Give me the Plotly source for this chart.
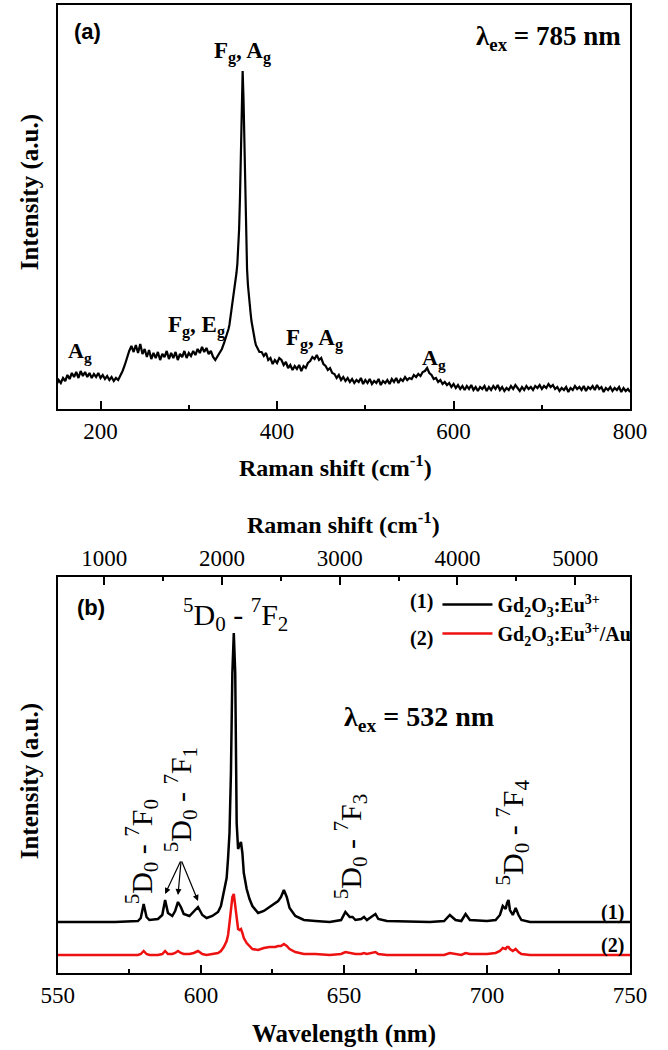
import plotly.graph_objects as go

W, H = 668, 1050


def px(x):
    return x / W


def py(y):
    return 1 - y / H


# ---------------- Panel (a): Raman spectrum, lambda_ex = 785 nm ----------------
raman_shift_a = ([150 + 2.5 * i for i in range(78)]
                 + list(range(345, 381))
                 + [382.5 + 2.5 * i for i in range(168)])
intensity_a = [
    # 150 .. 342.5 (step 2.5)
    24, 29, 26, 31, 28, 34, 30, 36, 32, 37,
    31, 38, 33, 37, 32, 36, 31, 35, 32, 36,
    31, 34, 30, 33, 29, 32, 28, 31, 29, 33,
    38, 44, 52, 58, 63, 57, 64, 56, 65, 55,
    60, 52, 59, 50, 56, 51, 57, 49, 55, 52,
    58, 50, 56, 51, 57, 49, 55, 52, 58, 51,
    56, 53, 58, 54, 60, 56, 62, 57, 61, 55,
    58, 52, 49, 53, 57, 60, 66, 72,
    # 345 .. 380 (step 1)
    80, 84, 90, 95, 102, 108, 114, 120, 128, 136,
    145, 160, 180, 212, 262, 318, 338, 310, 258, 205,
    165, 140, 124, 112, 104, 96, 88, 82, 76, 72,
    68, 64, 62, 60, 58, 57,
    # 382.5 .. 800 (step 2.5)
    57, 53, 56, 49, 51, 45, 49, 46, 51, 49,
    44, 47, 41, 44, 39, 43, 40, 44, 38, 43,
    41, 46, 48, 52, 50, 54, 49, 51, 45, 43,
    39, 41, 36, 35, 31, 34, 29, 32, 28, 31,
    27, 30, 26, 29, 27, 31, 25, 29, 26, 30,
    25, 28, 26, 30, 24, 28, 26, 29, 25, 30,
    27, 31, 26, 30, 28, 32, 29, 31, 30, 34,
    32, 35, 33, 37, 38, 41, 36, 34, 30, 31,
    27, 29, 25, 27, 24, 26, 22, 25, 21, 24,
    20, 23, 19, 23, 20, 24, 19, 22, 18, 22,
    20, 23, 18, 22, 19, 23, 20, 24, 19, 22,
    18, 21, 19, 23, 20, 24, 21, 18, 22, 19,
    23, 20, 22, 19, 23, 21, 24, 20, 23, 21,
    25, 22, 24, 20, 22, 18, 21, 19, 22, 17,
    21, 19, 23, 20, 22, 19, 23, 18, 22, 20,
    23, 19, 24, 20, 22, 17, 21, 19, 22, 18,
    21, 19, 22, 17, 21, 18, 20, 17,
]

# ---------------- Panel (b): luminescence, lambda_ex = 532 nm ----------------
wavelength_b = [
    550, 570, 578, 579, 580, 581, 582, 585, 586.5, 587.5,
    588.5, 590, 591, 592, 593, 594, 596, 597.5, 599, 600.5,
    602, 604, 606, 607, 608, 609, 609.5, 610, 610.5, 611,
    611.5, 612, 612.5, 613, 613.5, 614, 614.5, 615, 616, 617,
    618, 620, 622, 624, 626, 627, 628, 629, 630, 631,
    633, 636, 640, 645, 649, 650.5, 652, 653, 654, 656,
    657, 658, 660, 661, 662, 665, 680, 685, 687, 689,
    691, 692.5, 694, 700, 703, 704.5, 705.5, 706.5, 707, 707.5,
    708, 709, 710, 711, 712, 715, 730, 750,
]
intensity_gd2o3_eu = [
    51, 51, 52, 55, 69, 56, 53, 54, 58, 73,
    60, 57, 62, 71, 66, 59, 57, 62, 66, 58,
    55, 57, 61, 67, 80, 95, 115, 140, 200, 300,
    340, 300, 150, 124, 128, 131, 120, 100, 84, 74,
    67, 60, 62, 66, 70, 72, 76, 83, 76, 65,
    57, 53, 52, 51, 53, 61, 56, 56, 53, 54,
    56, 53, 57, 59, 54, 52, 51, 52, 58, 53,
    52, 59, 53, 52, 53, 58, 67, 64, 70, 73,
    63, 58, 65, 58, 53, 51, 51, 51,
]
intensity_gd2o3_eu_au = [
    18, 18, 18, 19, 22, 19, 18, 18, 19, 22,
    19, 19, 20, 22, 20, 19, 19, 20, 22, 19,
    18, 19, 20, 22, 26, 32, 38, 50, 64, 76,
    79, 68, 52, 44, 43, 44, 40, 35, 30, 27,
    24, 23, 25, 26, 26, 27, 27, 29, 27, 24,
    21, 19, 19, 18, 19, 21, 20, 20, 19, 19,
    20, 19, 20, 21, 19, 18, 18, 18, 20, 19,
    18, 20, 19, 19, 20, 22, 25, 24, 26, 26,
    24, 22, 24, 21, 19, 18, 18, 18,
]

series_names = [
    "<b>Gd<sub>2</sub>O<sub>3</sub>:Eu<sup>3+</sup></b>",
    "<b>Gd<sub>2</sub>O<sub>3</sub>:Eu<sup>3+</sup>/Au</b>",
]
series_colors = ["#000000", "#ee1111"]

SERIF = "Liberation Serif"
SANS = "Liberation Sans"

fig = go.Figure()

fig.add_trace(go.Scatter(
    x=raman_shift_a, y=intensity_a, mode="lines",
    line=dict(color="black", width=2.2), xaxis="x", yaxis="y", showlegend=False,
))
fig.add_trace(go.Scatter(
    x=wavelength_b, y=intensity_gd2o3_eu, mode="lines", name=series_names[0],
    line=dict(color=series_colors[0], width=2.5), xaxis="x2", yaxis="y2",
))
fig.add_trace(go.Scatter(
    x=wavelength_b, y=intensity_gd2o3_eu_au, mode="lines", name=series_names[1],
    line=dict(color=series_colors[1], width=2.5), xaxis="x2", yaxis="y2",
))

tickfont = dict(family=SERIF, size=23, color="black")
common_axis = dict(showline=True, linecolor="black", linewidth=2, showgrid=False,
                   zeroline=False, tickfont=tickfont)

fig.update_layout(
    width=W, height=H,
    margin=dict(l=0, r=0, t=0, b=0),
    paper_bgcolor="white", plot_bgcolor="white",
    font=dict(family=SERIF, color="black"),
    xaxis=dict(domain=[px(43), px(646)], anchor="y", range=[151.6, 800],
               ticks="inside", ticklen=8, tickwidth=2, tickcolor="black",
               tick0=0, dtick=200, mirror=True,
               minor=dict(ticks="inside", ticklen=4, tickwidth=2, dtick=100, tickcolor="black"),
               **common_axis),
    yaxis=dict(domain=[py(409), py(5)], anchor="x", range=[0, 404],
               showticklabels=False, ticks="", mirror=True, **common_axis),
    xaxis2=dict(domain=[px(43), px(646)], anchor="y2", range=[550, 750],
                ticks="inside", ticklen=8, tickwidth=2, tickcolor="black",
                tick0=550, dtick=50,
                minor=dict(ticks="inside", ticklen=4, tickwidth=2, dtick=25, tickcolor="black"),
                **common_axis),
    xaxis3=dict(overlaying="x2", side="top", anchor="y2", range=[606, 5466],
                ticks="inside", ticklen=8, tickwidth=2, tickcolor="black",
                tick0=0, dtick=1000,
                minor=dict(ticks="inside", ticklen=4, tickwidth=2, dtick=500, tickcolor="black"),
                **common_axis),
    yaxis2=dict(domain=[py(973), py(577)], anchor="x2", range=[0, 396],
                showticklabels=False, ticks="", mirror=True, **common_axis),
    showlegend=True,
    legend=dict(x=px(443), y=py(585), xanchor="left", yanchor="top",
                font=dict(family=SERIF, size=20, color="black"),
                bgcolor="rgba(0,0,0,0)", itemwidth=50, tracegroupgap=0),
)

# invisible anchor trace so the top axis is active
fig.add_trace(go.Scatter(x=[606, 5466], y=[None, None], xaxis="x3", yaxis="y2",
                         showlegend=False, hoverinfo="skip", mode="lines"))

ann = []


def add_text(text, x, y, size, family=SERIF, angle=0, xanchor="center", yanchor="middle"):
    ann.append(dict(text=text, x=px(x), y=py(y), xref="paper", yref="paper",
                    showarrow=False, textangle=angle, xanchor=xanchor, yanchor=yanchor,
                    font=dict(family=family, size=size, color="black")))


# axis titles
add_text("<b>Raman shift (cm<sup>-1</sup>)</b>", 336, 466, 24)
add_text("<b>Raman shift (cm<sup>-1</sup>)</b>", 344, 523, 24)
add_text("<b>Wavelength (nm)</b>", 345, 1034, 25)
add_text("<b>Intensity (a.u.)</b>", 14, 192, 25, angle=-90)
add_text("<b>Intensity (a.u.)</b>", 14, 781, 25, angle=-90)

# panel (a) labels
add_text("<b>(a)</b>", 74, 32, 22, family=SANS)
add_text("<b>λ<sub>ex</sub> = 785 nm</b>", 560, 38, 27)
add_text("<b>F<sub>g</sub>, A<sub>g</sub></b>", 238, 52, 23)
add_text("<b>F<sub>g</sub>, E<sub>g</sub></b>", 189, 327, 23)
add_text("<b>F<sub>g</sub>, A<sub>g</sub></b>", 313, 339, 23)
add_text("<b>A<sub>g</sub></b>", 66, 352, 22)
add_text("<b>A<sub>g</sub></b>", 439, 359, 22)

# panel (b) labels
add_text("<b>(b)</b>", 78, 607, 22, family=SANS)
add_text("<sup>5</sup>D<sub>0</sub> - <sup>7</sup>F<sub>2</sub>", 230, 614, 30)
add_text("<b>λ<sub>ex</sub> = 532 nm</b>", 424, 718, 28)
add_text("<sup>5</sup>D<sub>0</sub> - <sup>7</sup>F<sub>0</sub>", 131, 852, 30, angle=-90)
add_text("<sup>5</sup>D<sub>0</sub> - <sup>7</sup>F<sub>1</sub>", 172, 800, 30, angle=-90)
add_text("<sup>5</sup>D<sub>0</sub> - <sup>7</sup>F<sub>3</sub>", 351, 847, 30, angle=-90)
add_text("<sup>5</sup>D<sub>0</sub> - <sup>7</sup>F<sub>4</sub>", 522, 832, 30, angle=-90)
add_text("<b>(1)</b>", 627, 912, 20)
add_text("<b>(2)</b>", 627, 945, 20)
add_text("<b>(1)</b>", 426, 601, 20)
add_text("<b>(2)</b>", 426, 638, 20)

# arrows to the 5D0-7F1 components
tail = (593.1, 113)
for head in [(587.5, 79), (592, 78), (599, 72)]:
    ann.append(dict(x=head[0], y=head[1], ax=tail[0], ay=tail[1], xref="x2", yref="y2",
                    axref="x2", ayref="y2", text="", showarrow=True, arrowhead=2,
                    arrowsize=1, arrowwidth=1.2, arrowcolor="black"))

fig.update_layout(annotations=ann)

fig.write_html("out.html")
